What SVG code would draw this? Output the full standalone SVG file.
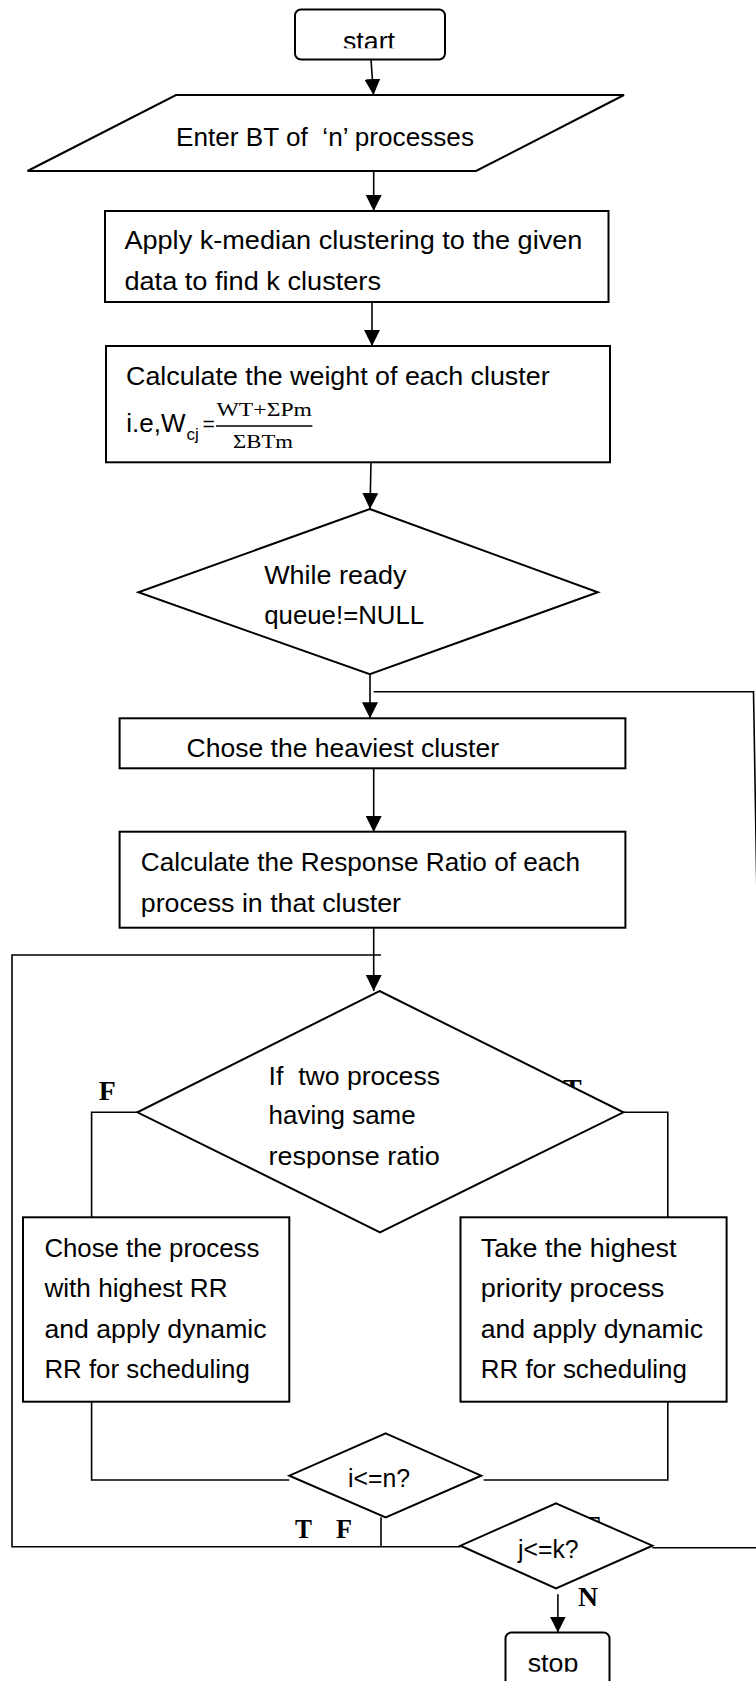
<svg xmlns="http://www.w3.org/2000/svg" width="756" height="1681" viewBox="0 0 756 1681">
<style>
.box{fill:#fff;stroke:#000;stroke-width:2}
.ln{fill:none;stroke:#000;stroke-width:1.6}
.t{font-family:"Liberation Sans",Arial,sans-serif;font-size:26px;fill:#000;white-space:pre}
.m{font-family:"Liberation Serif","Times New Roman",serif;font-size:19px;fill:#000}
.lbl{font-family:"Liberation Serif","Times New Roman",serif;font-weight:bold;font-size:27px;fill:#000}
</style>
<defs>
<marker id="ah" markerUnits="userSpaceOnUse" markerWidth="16" markerHeight="16" viewBox="0 0 16 16" refX="16" refY="8" orient="auto">
<path d="M0,0 L16,8 L0,16 Z" fill="#000"/>
</marker>
<clipPath id="clipStart"><rect x="290" y="0" width="160" height="48.3"/></clipPath>
<clipPath id="clipResp"><rect x="250" y="1130" width="220" height="38.3"/></clipPath>
<clipPath id="clipStop"><rect x="500" y="1630" width="120" height="41.7"/></clipPath>
</defs>
<rect width="756" height="1681" fill="#fff"/>

<g id="connectors">
<path class="ln" d="M371,59.5 L373.5,95" marker-end="url(#ah)"/>
<path class="ln" d="M373.7,171 L373.7,211" marker-end="url(#ah)"/>
<path class="ln" d="M372,302 L372,346" marker-end="url(#ah)"/>
<path class="ln" d="M371,462 L370,509" marker-end="url(#ah)"/>
<path class="ln" d="M370,674 L370,718.3" marker-end="url(#ah)"/>
<path class="ln" d="M373.7,691.7 L753.5,691.7 L768,1547.7 L652.4,1547.7"/>
<path class="ln" d="M373.7,768.3 L373.7,832" marker-end="url(#ah)"/>
<path class="ln" d="M373.7,927.5 L373.7,991" marker-end="url(#ah)"/>
<path class="ln" d="M381,955 L12,955 L12,1546.7 L460.5,1546.7"/>
<path class="ln" d="M137.4,1112.3 L91.6,1112.3 L91.6,1217.3"/>
<path class="ln" d="M623.4,1112.3 L667.8,1112.3 L667.8,1217.3"/>
<path class="ln" d="M91.6,1402 L91.6,1480 L289.3,1480"/>
<path class="ln" d="M667.8,1402 L667.8,1480 L483.6,1480"/>
<path class="ln" d="M381,1517.3 L381,1546.7"/>
<path class="ln" d="M557.9,1594.3 L557.9,1632.5" marker-end="url(#ah)"/>
</g>

<g id="labels">
<text class="lbl" x="98.8" y="1100" textLength="17" lengthAdjust="spacingAndGlyphs">F</text>
<text class="lbl" x="563" y="1098" textLength="18.7" lengthAdjust="spacingAndGlyphs">T</text>
<text class="lbl" x="295" y="1538.3" textLength="17" lengthAdjust="spacingAndGlyphs">T</text>
<text class="lbl" x="336" y="1538.3" textLength="16" lengthAdjust="spacingAndGlyphs">F</text>
<text class="lbl" x="578" y="1606" textLength="20" lengthAdjust="spacingAndGlyphs">N</text>
<text class="lbl" x="582" y="1535" textLength="18" lengthAdjust="spacingAndGlyphs">T</text>
</g>

<g id="n-start">
<rect class="box" x="295" y="9.5" width="150" height="50" rx="6"/>
<text class="t" x="343" y="49.8" font-size="25" textLength="52" lengthAdjust="spacingAndGlyphs" clip-path="url(#clipStart)">start</text>
</g>

<g id="n-input">
<polygon class="box" points="176,95 624,95 476,171 27.5,171"/>
<text class="t" x="176" y="146" textLength="298" lengthAdjust="spacingAndGlyphs" xml:space="preserve">Enter BT of  ‘n’ processes</text>
</g>

<g id="n-cluster">
<rect class="box" x="105" y="211" width="503.5" height="91"/>
<text class="t" x="124.4" y="249.3" textLength="458" lengthAdjust="spacingAndGlyphs">Apply k-median clustering to the given</text>
<text class="t" x="124.4" y="290" textLength="256.6" lengthAdjust="spacingAndGlyphs">data to find k clusters</text>
</g>

<g id="n-weight">
<rect class="box" x="106" y="346" width="504" height="116.3"/>
<text class="t" x="126" y="385" textLength="423.6" lengthAdjust="spacingAndGlyphs">Calculate the weight of each cluster</text>
<text class="t" x="126.3" y="432.3" font-size="27">i.e,W<tspan x="186.5" y="440" font-size="17">cj</tspan><tspan x="202.5" y="431" font-size="21">=</tspan></text>
<text class="m" x="216.5" y="416" textLength="95.5" lengthAdjust="spacingAndGlyphs">WT+ΣPm</text>
<line x1="216" y1="426" x2="312.4" y2="426" stroke="#000" stroke-width="1.5"/>
<text class="m" x="233" y="448.3" textLength="60" lengthAdjust="spacingAndGlyphs">ΣBTm</text>
</g>

<g id="n-while">
<polygon class="box" points="369.8,509 597.9,592.3 369.8,674.3 138.4,592.3"/>
<text class="t" x="264.2" y="584" textLength="142.3" lengthAdjust="spacingAndGlyphs">While ready</text>
<text class="t" x="264.2" y="624" textLength="160" lengthAdjust="spacingAndGlyphs">queue!=NULL</text>
</g>

<g id="n-heaviest">
<rect class="box" x="119.6" y="718.3" width="505.8" height="50"/>
<text class="t" x="186.6" y="757.3" textLength="312.4" lengthAdjust="spacingAndGlyphs">Chose the heaviest cluster</text>
</g>

<g id="n-rr">
<rect class="box" x="119.6" y="831.7" width="505.8" height="96"/>
<text class="t" x="140.8" y="870.7" textLength="439.2" lengthAdjust="spacingAndGlyphs">Calculate the Response Ratio of each</text>
<text class="t" x="140.8" y="911.7" textLength="260.2" lengthAdjust="spacingAndGlyphs">process in that cluster</text>
</g>

<g id="n-same">
<polygon class="box" points="379.5,991 623.4,1112.3 380,1232.3 137.4,1112.3"/>
<text class="t" x="268.6" y="1085" textLength="171.4" lengthAdjust="spacingAndGlyphs" xml:space="preserve">If  two process</text>
<text class="t" x="268.6" y="1124.3" textLength="147" lengthAdjust="spacingAndGlyphs">having same</text>
<text class="t" x="268.6" y="1165" textLength="171.1" lengthAdjust="spacingAndGlyphs" clip-path="url(#clipResp)">response ratio</text>
</g>

<g id="n-left">
<rect class="box" x="23" y="1217.3" width="266.3" height="184.4"/>
<text class="t" x="44.4" y="1256.7" textLength="215" lengthAdjust="spacingAndGlyphs">Chose the process</text>
<text class="t" x="44.4" y="1296.7" textLength="183.2" lengthAdjust="spacingAndGlyphs">with highest RR</text>
<text class="t" x="44.4" y="1338.3" textLength="222.2" lengthAdjust="spacingAndGlyphs">and apply dynamic</text>
<text class="t" x="44.4" y="1378.3" textLength="205.4" lengthAdjust="spacingAndGlyphs">RR for scheduling</text>
</g>

<g id="n-right">
<rect class="box" x="460.5" y="1217.3" width="266.1" height="184.4"/>
<text class="t" x="480.7" y="1256.7" textLength="195.8" lengthAdjust="spacingAndGlyphs">Take the highest</text>
<text class="t" x="480.7" y="1296.7" textLength="183.7" lengthAdjust="spacingAndGlyphs">priority process</text>
<text class="t" x="480.7" y="1338.3" textLength="222.3" lengthAdjust="spacingAndGlyphs">and apply dynamic</text>
<text class="t" x="480.7" y="1378.3" textLength="206.3" lengthAdjust="spacingAndGlyphs">RR for scheduling</text>
</g>

<g id="n-i">
<polygon class="box" points="385.7,1433.3 481.2,1475.7 385.7,1517.3 289.3,1475.7"/>
<text class="t" x="348" y="1487.3" font-size="21" textLength="62" lengthAdjust="spacingAndGlyphs">i&lt;=n?</text>
</g>

<g id="n-j">
<polygon class="box" points="556,1503.3 652.4,1545.7 556,1588.3 460.5,1545.7"/>
<text class="t" x="518" y="1558.3" font-size="21" textLength="60.6" lengthAdjust="spacingAndGlyphs">j&lt;=k?</text>
</g>

<g id="n-stop">
<rect class="box" x="505.5" y="1632.5" width="104" height="60" rx="6"/>
<text class="t" x="527.7" y="1672" font-size="25" textLength="50.6" lengthAdjust="spacingAndGlyphs" clip-path="url(#clipStop)">stop</text>
</g>
</svg>
